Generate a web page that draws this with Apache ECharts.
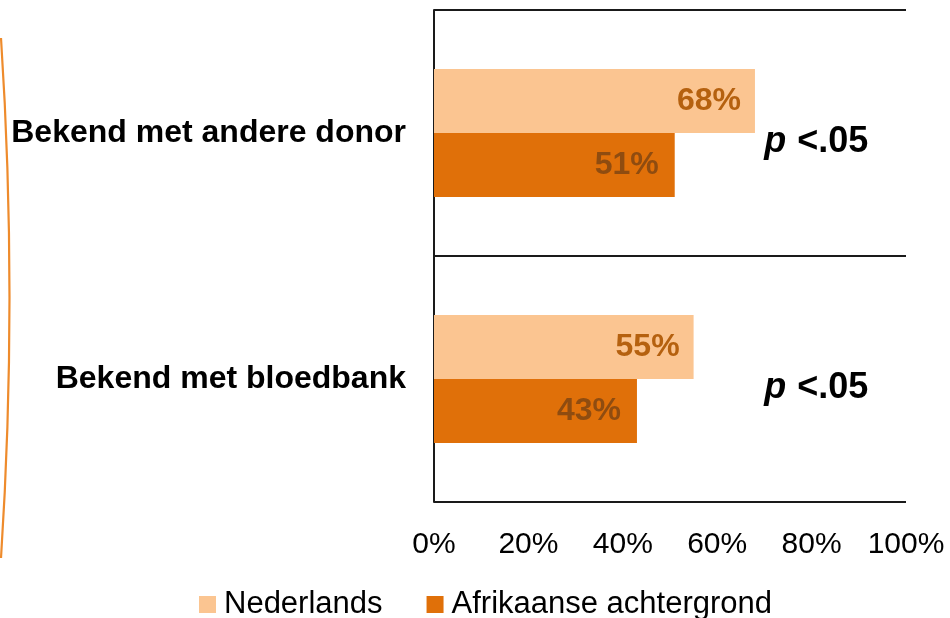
<!DOCTYPE html>
<html>
<head>
<meta charset="utf-8">
<script src="https://cdn.jsdelivr.net/npm/echarts@6/dist/echarts.min.js"></script>
<style>
  html, body { margin: 0; padding: 0; background: #fff; }
  #chart { width: 950px; height: 618px; }
</style>
</head>
<body>
<div id="chart"></div>
<script>
// categories (top to bottom)
const categories = ['Bekend met andere donor', 'Bekend met bloedbank']
const seriesNames = ['Nederlands', 'Afrikaanse achtergrond']
const nederlands = [68, 55]
const afrikaans = [51, 43]
const pLabels = ['<.05', '<.05']
const xTicks = [0, 20, 40, 60, 80, 100]

const font = "Arial, 'Liberation Sans', sans-serif"
const chart = echarts.init(document.getElementById('chart'))

chart.setOption({
  animation: false,
  textStyle: { fontFamily: font },
  grid: { left: 434, right: 44, top: 10, bottom: 116 },
  legend: {
    data: seriesNames,
    left: 194,
    top: 584,
    itemWidth: 17,
    itemHeight: 17,
    itemGap: 44,
    icon: 'rect',
    textStyle: { fontSize: 31, color: '#000', fontFamily: font, padding: [0, 0, 0, 3] }
  },
  xAxis: {
    type: 'value',
    min: xTicks[0],
    max: xTicks[xTicks.length - 1],
    interval: 20,
    axisLine: { show: false },
    axisTick: { show: false },
    splitLine: { show: false },
    axisLabel: {
      formatter: '{value}%',
      fontSize: 30,
      color: '#000',
      margin: 28
    }
  },
  yAxis: {
    type: 'category',
    inverse: true,
    data: categories,
    axisLine: { show: true, lineStyle: { color: '#1a1a1a', width: 2 } },
    axisTick: { show: false },
    splitLine: { show: true, lineStyle: { color: '#1a1a1a', width: 2 } },
    axisLabel: {
      fontSize: 32,
      fontWeight: 'bold',
      color: '#000',
      margin: 28
    }
  },
  series: [
    {
      name: seriesNames[0],
      type: 'bar',
      data: nederlands,
      barWidth: 64,
      barGap: '0%',
      itemStyle: { color: '#FBC591' },
      label: {
        show: true,
        position: 'insideRight',
        distance: 14,
        formatter: '{c}%',
        fontSize: 32,
        fontWeight: 'bold',
        color: '#B5610F'
      }
    },
    {
      name: seriesNames[1],
      type: 'bar',
      data: afrikaans,
      barWidth: 64,
      barGap: '0%',
      itemStyle: { color: '#E07009' },
      label: {
        show: true,
        position: 'insideRight',
        distance: 16,
        formatter: '{c}%',
        fontSize: 32,
        fontWeight: 'bold',
        color: '#8F4C10'
      }
    },
    {
      // p-value annotation next to each pair
      type: 'scatter',
      symbolSize: 0,
      silent: true,
      itemStyle: { opacity: 1 },
      data: categories.map((c, i) => [81, c, pLabels[i]]),
      label: {
        show: true,
        position: 'inside',
        offset: [0, 9],
        color: '#000',
        formatter: (p) => '{i|p}{s| }{b|' + p.value[2] + '}',
        rich: {
          i: { fontSize: 36, fontWeight: 'bold', fontStyle: 'italic', color: '#000', fontFamily: font },
          s: { fontSize: 36, color: '#000', fontFamily: font, width: 11 },
          b: { fontSize: 36, fontWeight: 'bold', color: '#000', fontFamily: font }
        }
      }
    }
  ],
  graphic: [
    {
      // decorative arc from the slide's left edge
      type: 'bezierCurve',
      silent: true,
      shape: { x1: 1, y1: 38, x2: 1, y2: 558, cpx1: 18, cpy1: 297 },
      style: { stroke: '#EE8B2C', lineWidth: 2.2, fill: null }
    }
  ]
})
</script>
</body>
</html>
